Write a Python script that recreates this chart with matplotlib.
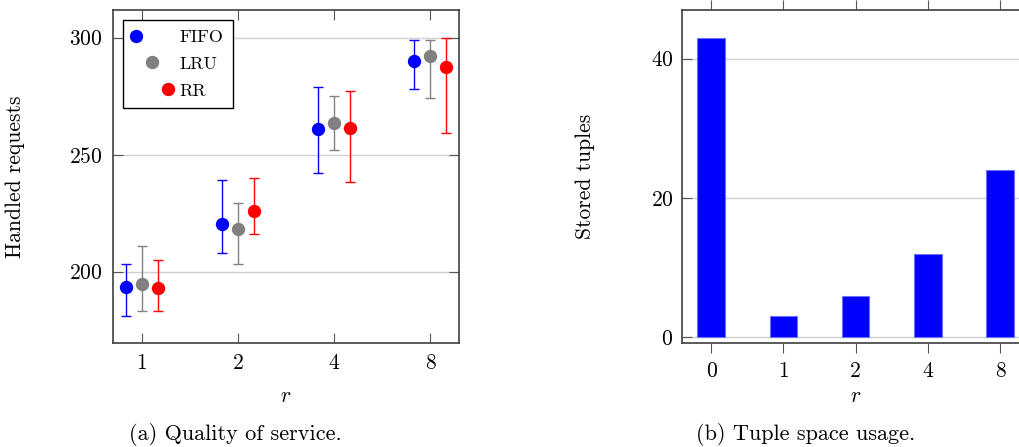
import numpy as np
import matplotlib
matplotlib.use("Agg")
import matplotlib.pyplot as plt
from matplotlib.lines import Line2D
from matplotlib.legend_handler import HandlerLine2D

plt.rcParams['font.family'] = ['cmr10', 'DejaVu Serif']
plt.rcParams['mathtext.fontset'] = 'cm'
plt.rcParams['axes.formatter.use_mathtext'] = True
plt.rcParams['axes.unicode_minus'] = False

# (a) quality of service: mean, low, high per policy
r_labels = ['1', '2', '4', '8']
policies = ['FIFO', 'LRU', 'RR']
colors = ['#0000ff', '#808080', '#ff0000']
fifo_mean = [193.3, 220.4, 261.1, 290.2]
fifo_low = [181.2, 208.1, 242.0, 278.1]
fifo_high = [203.1, 239.0, 279.1, 299.0]
lru_mean = [194.9, 218.2, 263.5, 292.2]
lru_low = [183.2, 203.1, 252.0, 274.1]
lru_high = [211.0, 229.2, 274.9, 299.0]
rr_mean = [192.9, 225.8, 261.5, 287.6]
rr_low = [183.2, 216.0, 238.2, 259.1]
rr_high = [205.1, 240.0, 277.1, 300.0]

# (b) tuple space usage
r_labels_b = ['0', '1', '2', '4', '8']
stored = [43, 3, 6, 12, 24]

FS = 15.5
frame_col = '#404040'
tick_col = '#555555'
grid_col = '#d0d0d0'


class ShiftedMarker(HandlerLine2D):
    # pgfplots-style legend: each marker sits a bit further right
    def __init__(self, shift, **kw):
        super().__init__(**kw)
        self.shift = shift

    def create_artists(self, legend, orig_handle, xdescent, ydescent,
                       width, height, fontsize, trans):
        arts = super().create_artists(legend, orig_handle, xdescent, ydescent,
                                      width, height, fontsize, trans)
        for a in arts:
            a.set_xdata(np.asarray(a.get_xdata()) + self.shift)
        return arts


fig = plt.figure(figsize=(10.19, 4.47), dpi=100)
ax1 = fig.add_axes([0.1106, 0.2320, 0.3401, 0.7457])
ax2 = fig.add_axes([0.6696, 0.2320, 0.3401, 0.7457])

# ---- left plot
x = np.arange(len(r_labels))
series = [(fifo_mean, fifo_low, fifo_high),
          (lru_mean, lru_low, lru_high),
          (rr_mean, rr_low, rr_high)]
offsets = [-0.167, 0.0, 0.167]
for (m, lo, hi), off, c in zip(series, offsets, colors):
    m = np.array(m); lo = np.array(lo); hi = np.array(hi)
    ax1.errorbar(x + off, m, yerr=[m - lo, hi - m], fmt='o', color=c,
                 markersize=8.6, elinewidth=1.0, capsize=3.8, capthick=1.0,
                 zorder=3)

ax1.set_xlim(-0.3, 3.3)
ax1.set_ylim(169.4, 311.8)
ax1.set_xticks(x)
ax1.set_xticklabels(r_labels)
ax1.set_yticks([200, 250, 300])
ax1.yaxis.grid(True, color=grid_col, linewidth=1.0)
ax1.set_axisbelow(True)
ax1.tick_params(axis='both', direction='in', length=7.5, width=0.8,
                color=tick_col, labelsize=FS, pad=7,
                top=True, right=True)
ax1.set_ylabel('Handled requests', fontsize=FS)
ax1.yaxis.set_label_coords(-0.253, 0.5)
ax1.set_xlabel('$r$', fontsize=FS)
ax1.xaxis.set_label_coords(0.5, -0.129)

handles = [Line2D([], [], marker='o', linestyle='none', color=c, markersize=8.6)
           for c in colors]
shift = 11.5
leg = ax1.legend(handles, policies, loc='upper left',
                 bbox_to_anchor=(0.0306, 0.969), borderaxespad=0,
                 fontsize=13, handlelength=2.2, handletextpad=0.42,
                 borderpad=0.5, labelspacing=0.62, fancybox=False,
                 framealpha=1, edgecolor='black',
                 handler_map={handles[0]: ShiftedMarker(-shift),
                              handles[1]: ShiftedMarker(0),
                              handles[2]: ShiftedMarker(shift)})
leg.get_frame().set_linewidth(1.0)

# ---- right plot
xb = np.arange(len(r_labels_b))
ax2.bar(xb, stored, width=0.38, color='#0000ff', edgecolor='#6f6fff',
        linewidth=0.8, zorder=3)
ax2.set_xlim(-0.4, 4.4)
ax2.set_ylim(-0.86, 47)
ax2.set_xticks(xb)
ax2.set_xticklabels(r_labels_b)
ax2.set_yticks([0, 20, 40])
ax2.yaxis.grid(True, color=grid_col, linewidth=1.0)
ax2.set_axisbelow(True)
ax2.tick_params(axis='x', direction='out', length=7.5, width=0.8,
                color=tick_col, labelsize=FS, pad=5.5, top=True)
ax2.tick_params(axis='y', direction='in', length=7.5, width=0.8,
                color=tick_col, labelsize=FS, pad=6.5, right=True)
ax2.set_ylabel('Stored tuples', fontsize=FS)
ax2.yaxis.set_label_coords(-0.252, 0.5)
ax2.set_xlabel('$r$', fontsize=FS)
ax2.xaxis.set_label_coords(0.5, -0.129)

for ax in (ax1, ax2):
    for s in ax.spines.values():
        s.set_color(frame_col)
        s.set_linewidth(1.2)

fig.text(235 / 1019, 1 - 435 / 447, '(a) Quality of service.', fontsize=16,
         ha='center', va='center')
fig.text(806 / 1019, 1 - 435 / 447, '(b) Tuple space usage.', fontsize=16,
         ha='center', va='center')

fig.savefig('out.png', dpi=100)
